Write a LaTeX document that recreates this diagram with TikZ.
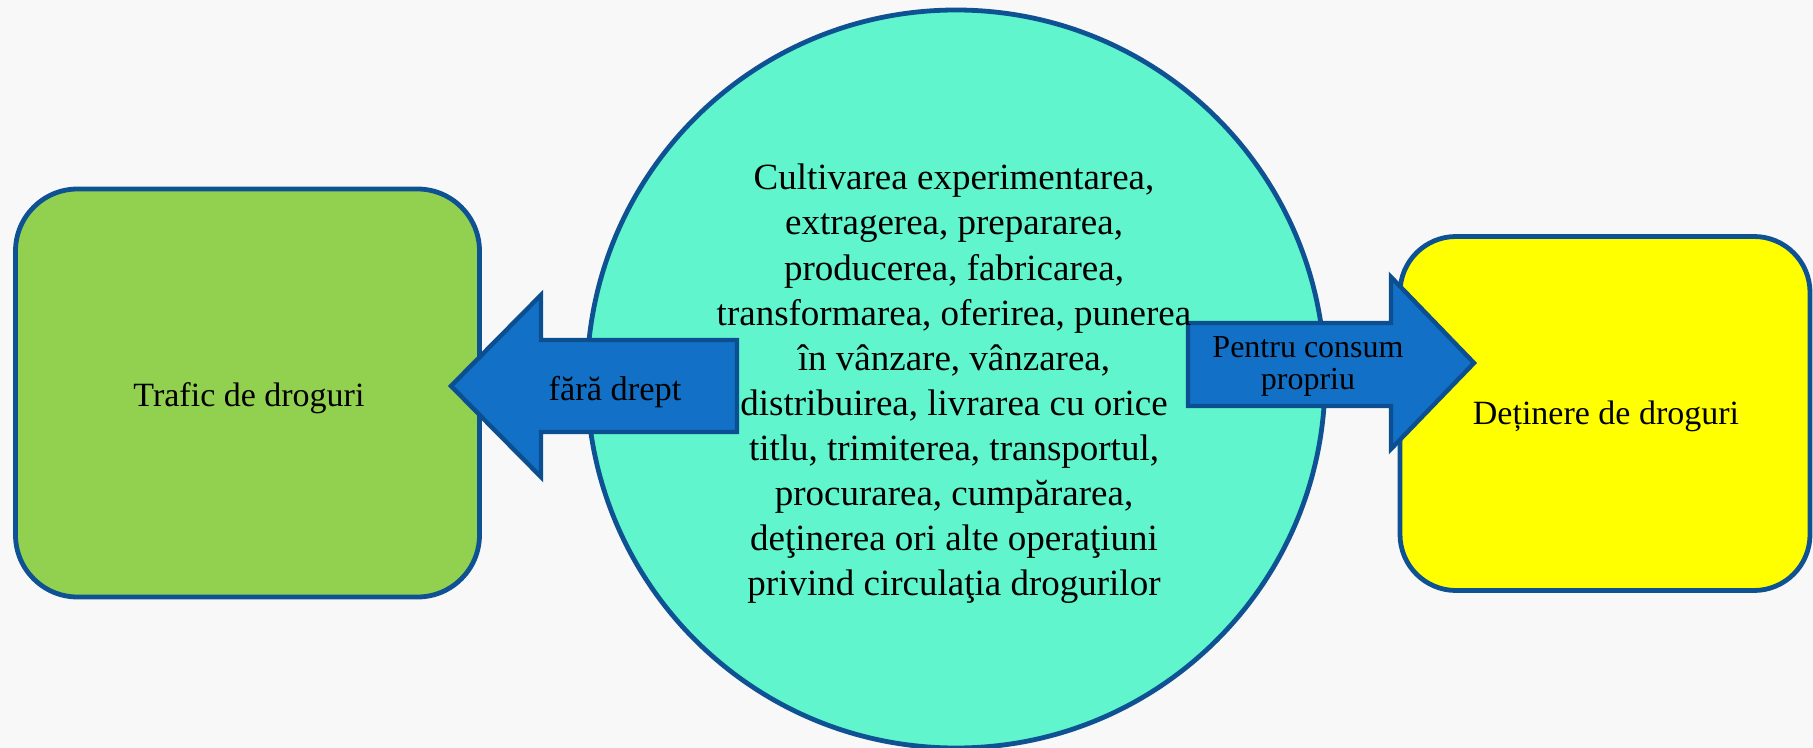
\documentclass[tikz,border=0pt]{standalone}
\usepackage{fontspec}
\setmainfont{Liberation Serif}
\definecolor{bgc}{HTML}{F8F8F8}
\definecolor{bordc}{HTML}{0F5294}
\definecolor{arrowfill}{HTML}{1270C6}
\definecolor{arrowborder}{HTML}{0B4F90}
\definecolor{boxgreen}{HTML}{92D050}
\definecolor{boxyellow}{HTML}{FFFF00}
\definecolor{aqua}{HTML}{60F5CC}
\begin{document}
\begin{tikzpicture}[x=0.5pt,y=-0.5pt,
  border/.style={draw=bordc, line width=2.4pt},
  box/.style={border, rectangle, align=center, inner sep=0pt},
  boxtext/.style={align=center, inner sep=0pt, font=\fontsize{17}{20}\selectfont},
  blockarrow/.style={draw=arrowborder, line width=2.2pt, fill=arrowfill, line join=miter},
  lbl/.style={align=center, inner sep=0pt}]
\fill[bgc] (0,0) rectangle (1813,748);
\useasboundingbox (0,0) rectangle (1813,748);
% boxes
\node[box, fill=boxgreen, rounded corners=31pt, minimum width=232pt, minimum height=204pt] (traf) at (247.5,393) {};
\node[boxtext] (traftext) at (249,398) {Trafic de droguri};
\node[box, fill=boxyellow, rounded corners=28pt, minimum width=205pt, minimum height=177pt] (det) at (1605,413.5) {};
\node[boxtext] (dettext) at (1606,416) {Deținere de droguri};
% circle
\node[circle, border, fill=aqua, minimum size=369pt, inner sep=0pt] (circ) at (956,379) {};
% left block arrow
\draw[blockarrow] (737,340) -- (541,340) -- (541,295) -- (451,386) -- (541,477) -- (541,432) -- (737,432) -- cycle;
\node[lbl, font=\fontsize{17.2}{20}\selectfont] (fd) at (615,392) {fără drept};
% right block arrow
\draw[blockarrow] (1188,323) -- (1391,323) -- (1391,277) -- (1474,363) -- (1391,449) -- (1391,406) -- (1188,406) -- cycle;
\node[lbl, font=\fontsize{16}{16}\selectfont] (pc) at (1308,366.5) {Pentru consum\\propriu};
% circle text
\node[lbl, font=\fontsize{18.5}{22.55}\selectfont] (ops) at (954,384) {Cultivarea experimentarea,\\extragerea, prepararea,\\producerea, fabricarea,\\transformarea, oferirea, punerea\\în vânzare, vânzarea,\\distribuirea, livrarea cu orice\\titlu, trimiterea, transportul,\\procurarea, cumpărarea,\\deţinerea ori alte operaţiuni\\privind circulaţia drogurilor};
\end{tikzpicture}
\end{document}
